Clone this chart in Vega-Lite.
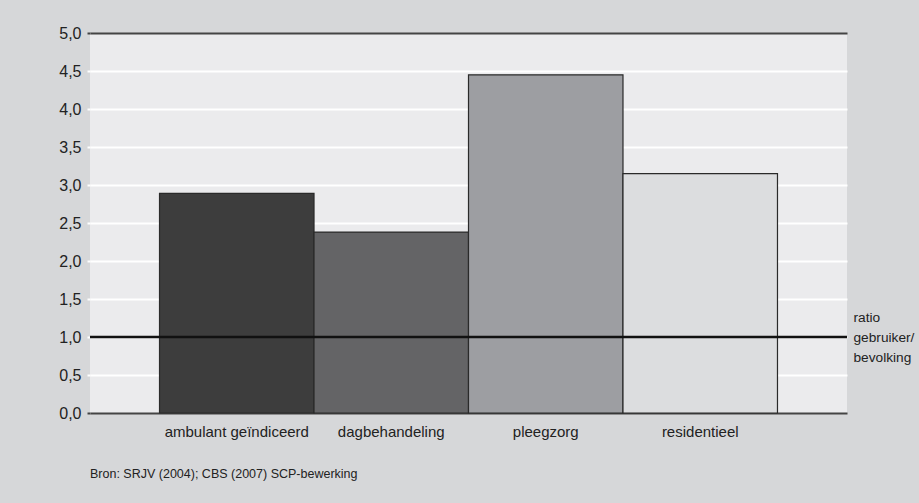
{
  "$schema": "https://vega.github.io/schema/vega-lite/v6.json",
  "width": 757,
  "height": 380,
  "autosize": {"type": "none"},
  "padding": {"left": 90, "top": 33, "right": 72, "bottom": 90},
  "background": "#d6d7d9",
  "config": {
    "font": "Liberation Sans",
    "view": {"fill": "#ebebed", "stroke": null}
  },
  "title": {
    "text": "Bron: SRJV (2004); CBS (2007) SCP-bewerking",
    "orient": "bottom",
    "anchor": "start",
    "frame": "group",
    "fontSize": 12.5,
    "fontWeight": "normal",
    "color": "#222222",
    "offset": 29
  },
  "data": {
    "values": [
      {"categorie": "ambulant geïndiceerd", "ratio": 2.89},
      {"categorie": "dagbehandeling", "ratio": 2.38},
      {"categorie": "pleegzorg", "ratio": 4.45},
      {"categorie": "residentieel", "ratio": 3.15}
    ]
  },
  "resolve": {"axis": {"y": "independent"}},
  "layer": [
    {
      "mark": {"type": "bar", "stroke": "#2a2a2a", "strokeWidth": 1.2},
      "encoding": {
        "x": {
          "field": "categorie",
          "type": "nominal",
          "sort": null,
          "scale": {"paddingInner": 0, "paddingOuter": 0.45},
          "axis": {
            "title": null,
            "labelAngle": 0,
            "ticks": false,
            "domain": false,
            "labelFontSize": 15,
            "labelColor": "#222222",
            "labelPadding": 11
          }
        },
        "y": {
          "field": "ratio",
          "type": "quantitative",
          "scale": {"domain": [0, 5], "nice": false},
          "axis": {
            "title": null,
            "values": [0, 0.5, 1, 1.5, 2, 2.5, 3, 3.5, 4, 4.5, 5],
            "labelExpr": "replace(format(datum.value, '.1f'), '.', ',')",
            "labelFontSize": 16,
            "labelColor": "#222222",
            "labelPadding": 6,
            "domain": false,
            "tickSize": 3,
            "tickColor": {"condition": {"test": "datum.value == 0 || datum.value == 5", "value": "#444444"}, "value": "#ffffff"},
            "tickWidth": 2,
            "grid": true,
            "gridColor": {"condition": {"test": "datum.value == 0 || datum.value == 5", "value": "#444444"}, "value": "#ffffff"},
            "gridWidth": 2
          }
        },
        "color": {
          "field": "categorie",
          "type": "nominal",
          "sort": null,
          "scale": {"range": ["#3d3d3d", "#646466", "#9d9ea2", "#dcdddf"]},
          "legend": null
        }
      }
    },
    {
      "data": {"values": [{"ref": 1}]},
      "mark": {"type": "rule", "color": "#111111", "strokeWidth": 2.5},
      "encoding": {
        "y": {
          "field": "ref",
          "type": "quantitative",
          "axis": {
            "orient": "right",
            "title": null,
            "values": [1],
            "labelExpr": "['ratio', 'gebruiker/', 'bevolking']",
            "labelFontSize": 13.7,
            "labelLineHeight": 20,
            "labelColor": "#222222",
            "labelPadding": 6,
            "labelAlign": "left",
            "labelBaseline": "middle",
            "labelOffset": -20,
            "ticks": false,
            "domain": false,
            "grid": false
          }
        }
      }
    }
  ]
}
